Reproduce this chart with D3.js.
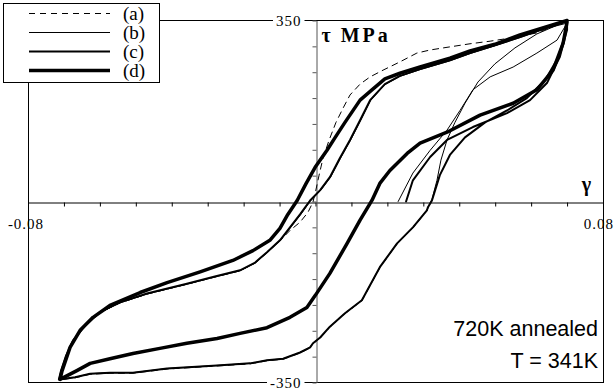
<!DOCTYPE html>
<html>
<head>
<meta charset="utf-8">
<script src="https://cdn.jsdelivr.net/npm/d3@7"></script>
<style>
  html, body { margin: 0; padding: 0; background: #fff; }
  svg { display: block; }
  .num { font-family: 'Liberation Serif', 'Times New Roman', serif; font-size: 15px; letter-spacing: 1px; }
  .leg { font-family: 'Liberation Serif', 'Times New Roman', serif; font-size: 19px; }
  .lab { font-family: 'Liberation Serif', 'Times New Roman', serif; font-size: 20px; font-weight: bold; }
  .note { font-family: 'Liberation Sans', Arial, sans-serif; font-size: 21.5px; }
</style>
</head>
<body>
<div id="chart"></div>
<script>
// shear strain gamma vs shear stress tau (MPa)
const seriesNames = ['(a)', '(b)', '(c)', '(d)']

const seriesA = [
  [0.0700, 349], [0.0616, 326], [0.0541, 316], [0.0486, 310], [0.0430, 305], [0.0374, 299],
  [0.0319, 293], [0.0282, 287], [0.0235, 270], [0.0188, 254], [0.0152, 241], [0.0124, 227],
  [0.0096, 206], [0.0077, 181], [0.0057, 153], [0.0038, 119], [0.0021, 84], [0.0010, 51],
  [0.0001, 22], [-0.0007, -1], [-0.0021, -21], [-0.0043, -40], [-0.0071, -56], [-0.0099, -76],
  [-0.0135, -99], [-0.0168, -119], [-0.0210, -134], [-0.0280, -146], [-0.0358, -160],
  [-0.0469, -179], [-0.0544, -196], [-0.0600, -215], [-0.0641, -241], [-0.0675, -270],
  [-0.0694, -299], [-0.0708, -328], [-0.0714, -345],
  [-0.0669, -341], [-0.0627, -334], [-0.0572, -332], [-0.0508, -332], [-0.0413, -324],
  [-0.0274, -318], [-0.0182, -314], [-0.0135, -308], [-0.0090, -305], [-0.0043, -293],
  [-0.0015, -283], [-0.0007, -275], [0.0013, -264], [0.0040, -243], [0.0082, -217],
  [0.0129, -192], [0.0179, -128], [0.0227, -82], [0.0271, -51], [0.0310, -18], [0.0313, -12]
]

const seriesB = [
  [0.0230, 0], [0.0271, 55], [0.0319, 99], [0.0366, 138], [0.0402, 176], [0.0438, 216],
  [0.0486, 241], [0.0550, 260], [0.0616, 287], [0.0672, 312], [0.0700, 345],
  [0.0639, 334], [0.0569, 317], [0.0499, 301], [0.0430, 286], [0.0374, 272], [0.0291, 255],
  [0.0235, 242], [0.0193, 226], [0.0154, 196], [0.0126, 157], [0.0098, 119], [0.0070, 84],
  [0.0042, 47], [0.0015, 22], [-0.0013, 2], [-0.0041, -25], [-0.0069, -50], [-0.0097, -75],
  [-0.0135, -99], [-0.0168, -119], [-0.0210, -134], [-0.0280, -146], [-0.0358, -160],
  [-0.0469, -179], [-0.0544, -196], [-0.0600, -215], [-0.0641, -241], [-0.0675, -270],
  [-0.0694, -299], [-0.0708, -328], [-0.0714, -345],
  [-0.0669, -340], [-0.0627, -333], [-0.0572, -331], [-0.0508, -331], [-0.0413, -323],
  [-0.0274, -317], [-0.0182, -313], [-0.0135, -307], [-0.0090, -304], [-0.0043, -292],
  [-0.0015, -282], [-0.0007, -274], [0.0013, -263], [0.0040, -242], [0.0082, -216],
  [0.0129, -191], [0.0179, -127], [0.0227, -81], [0.0271, -50], [0.0310, -17], [0.0313, -11],
  [0.0324, 4], [0.0338, 41], [0.0349, 80], [0.0366, 119], [0.0388, 153], [0.0416, 190],
  [0.0452, 231], [0.0499, 266], [0.0555, 297], [0.0616, 324], [0.0666, 339], [0.0700, 349]
]

const seriesC = [
  [0.0252, 0], [0.0271, 41], [0.0319, 86], [0.0366, 119], [0.0438, 144], [0.0533, 171],
  [0.0597, 196], [0.0644, 229], [0.0680, 280], [0.0700, 332], [0.0700, 349],
  [0.0639, 335], [0.0569, 318], [0.0499, 302], [0.0430, 287], [0.0374, 273], [0.0291, 256],
  [0.0235, 243], [0.0193, 227], [0.0152, 196], [0.0124, 157], [0.0096, 119], [0.0068, 84],
  [0.0040, 47], [0.0013, 22], [-0.0015, 2], [-0.0043, -25], [-0.0071, -50], [-0.0099, -75],
  [-0.0135, -98], [-0.0168, -118], [-0.0210, -133], [-0.0280, -145], [-0.0358, -159],
  [-0.0469, -178], [-0.0544, -195], [-0.0600, -214], [-0.0641, -240], [-0.0675, -269],
  [-0.0694, -298], [-0.0708, -327], [-0.0714, -344],
  [-0.0669, -340], [-0.0627, -333], [-0.0572, -331], [-0.0508, -331], [-0.0413, -323],
  [-0.0274, -317], [-0.0182, -313], [-0.0135, -307], [-0.0090, -304], [-0.0043, -292],
  [-0.0015, -282], [-0.0007, -274], [0.0013, -263], [0.0040, -242], [0.0082, -216],
  [0.0129, -191], [0.0179, -127], [0.0227, -81], [0.0271, -50], [0.0310, -17], [0.0313, -11],
  [0.0324, 2], [0.0346, 51], [0.0374, 90], [0.0416, 124], [0.0472, 153], [0.0533, 176],
  [0.0588, 200], [0.0639, 235], [0.0675, 278], [0.0694, 322], [0.0700, 340]
]

const seriesD = [
  [0.0700, 350], [0.0639, 337], [0.0569, 322], [0.0499, 304], [0.0430, 291], [0.0374, 277],
  [0.0291, 260], [0.0235, 248], [0.0193, 237], [0.0157, 216], [0.0124, 196], [0.0082, 153],
  [0.0054, 123], [0.0032, 99], [-0.0001, 66], [-0.0026, 35], [-0.0051, 2], [-0.0077, -25],
  [-0.0099, -52], [-0.0127, -75], [-0.0174, -95], [-0.0230, -114], [-0.0321, -136],
  [-0.0413, -157], [-0.0488, -176], [-0.0572, -201], [-0.0619, -224], [-0.0655, -249],
  [-0.0683, -282], [-0.0705, -327], [-0.0711, -344],
  [-0.0664, -327], [-0.0627, -313], [-0.0572, -304], [-0.0508, -294], [-0.0433, -284],
  [-0.0358, -274], [-0.0274, -265], [-0.0210, -255], [-0.0135, -244], [-0.0071, -224],
  [-0.0024, -205], [-0.0001, -182], [0.0040, -139], [0.0088, -81], [0.0124, -36],
  [0.0157, 2], [0.0179, 35], [0.0207, 60], [0.0255, 93], [0.0291, 113], [0.0366, 134],
  [0.0458, 167], [0.0550, 190], [0.0616, 216], [0.0661, 254], [0.0689, 306], [0.0700, 347]
]

const xTicks = d3.range(-8, 9).map(d => d / 100)
const yTicks = d3.range(-7, 8).map(d => d * 50)
const xTickLabels = ['-0.08', '0.08']
const yTickLabels = ['350', '-350']

const series = [
  { name: seriesNames[0], data: seriesA, width: 1, dash: '6,5' },
  { name: seriesNames[1], data: seriesB, width: 1, dash: null },
  { name: seriesNames[2], data: seriesC, width: 2, dash: null },
  { name: seriesNames[3], data: seriesD, width: 3.5, dash: null }
]

const W = 616
const H = 389

const svg = d3.select('#chart').append('svg')
  .attr('width', W)
  .attr('height', H)

const x = d3.scaleLinear([-0.08, 0.08], [28, 603])
const y = d3.scaleLinear([-350, 350], [382.5, 20.5])

// plot frame
svg.append('rect')
  .attr('x', x(-0.08))
  .attr('y', y(350))
  .attr('width', x(0.08) - x(-0.08))
  .attr('height', y(-350) - y(350))
  .attr('fill', 'none')
  .attr('stroke', '#000')
  .attr('stroke-width', 1)
  .style('shape-rendering', 'crispEdges')

// axes through the origin
const xAxis = svg.append('g')
  .attr('transform', `translate(0, ${Math.round(y(0)) + 0.5})`)
  .call(d3.axisBottom(x).tickValues(xTicks).tickSize(4).tickSizeOuter(0).tickFormat(''))
xAxis.select('.domain').attr('stroke', '#000')

const yAxis = svg.append('g')
  .attr('transform', `translate(${Math.round(x(0)) + 0.5}, 0)`)
  .call(d3.axisLeft(y).tickValues(yTicks).tickSize(4).tickSizeOuter(0).tickFormat(''))
yAxis.select('.domain').attr('stroke', '#555')
yAxis.selectAll('.tick line').attr('stroke', '#555')

// curves
const line = d3.line()
  .x(d => x(d[0]))
  .y(d => y(d[1]))

svg.append('g').selectAll('path')
  .data(series)
  .join('path')
  .attr('d', d => line(d.data))
  .attr('fill', 'none')
  .attr('stroke', '#000')
  .attr('stroke-width', d => d.width)
  .attr('stroke-dasharray', d => d.dash)
  .attr('stroke-linejoin', 'round')
  .attr('stroke-linecap', 'round')

// y end labels sitting on the frame lines
const yLab = svg.append('g')
yTickLabels.forEach(t => {
  const v = +t
  const g = yLab.append('g')
  const txt = g.append('text')
    .attr('class', 'num')
    .attr('x', x(0) - 14)
    .attr('y', y(v) + 5)
    .attr('text-anchor', 'end')
    .text(t)
  const bb = txt.node().getBBox()
  g.insert('rect', 'text')
    .attr('x', bb.x - 3)
    .attr('y', y(v) - 2)
    .attr('width', bb.width + 6)
    .attr('height', 4)
    .attr('fill', '#fff')
})

// x end labels
svg.append('text')
  .attr('class', 'num')
  .attr('x', x(-0.08) - 2)
  .attr('y', y(0) + 27)
  .attr('text-anchor', 'middle')
  .text(xTickLabels[0])
svg.append('text')
  .attr('class', 'num')
  .attr('x', 614)
  .attr('y', y(0) + 27)
  .attr('text-anchor', 'end')
  .text(xTickLabels[1])

// axis titles
svg.append('text')
  .attr('class', 'lab')
  .attr('x', x(0) + 6)
  .attr('y', y(350) + 21)
  .html('τ&#160;&#160;<tspan letter-spacing="3">MPa</tspan>')
svg.append('text')
  .attr('class', 'lab')
  .attr('x', x(0.08) - 12)
  .attr('y', y(0) - 11)
  .attr('text-anchor', 'end')
  .text('γ')

// annotation
svg.append('text')
  .attr('class', 'note')
  .attr('x', 598)
  .attr('y', 336)
  .attr('text-anchor', 'end')
  .text('720K annealed')
svg.append('text')
  .attr('class', 'note')
  .attr('x', 598)
  .attr('y', 368)
  .attr('text-anchor', 'end')
  .text('T = 341K')

// legend
const legend = svg.append('g')
legend.append('rect')
  .attr('x', 3.5)
  .attr('y', 3.5)
  .attr('width', 156)
  .attr('height', 79)
  .attr('fill', '#fff')
  .attr('stroke', '#000')
  .attr('stroke-width', 1)

series.forEach((s, i) => {
  const ly = 13.5 + i * 19
  legend.append('line')
    .attr('x1', 29)
    .attr('x2', 110)
    .attr('y1', ly)
    .attr('y2', ly)
    .attr('stroke', '#000')
    .attr('stroke-width', s.width)
    .attr('stroke-dasharray', s.dash)
  legend.append('text')
    .attr('class', 'leg')
    .attr('x', 123)
    .attr('y', ly + 6)
    .text(s.name)
})
</script>
</body>
</html>
